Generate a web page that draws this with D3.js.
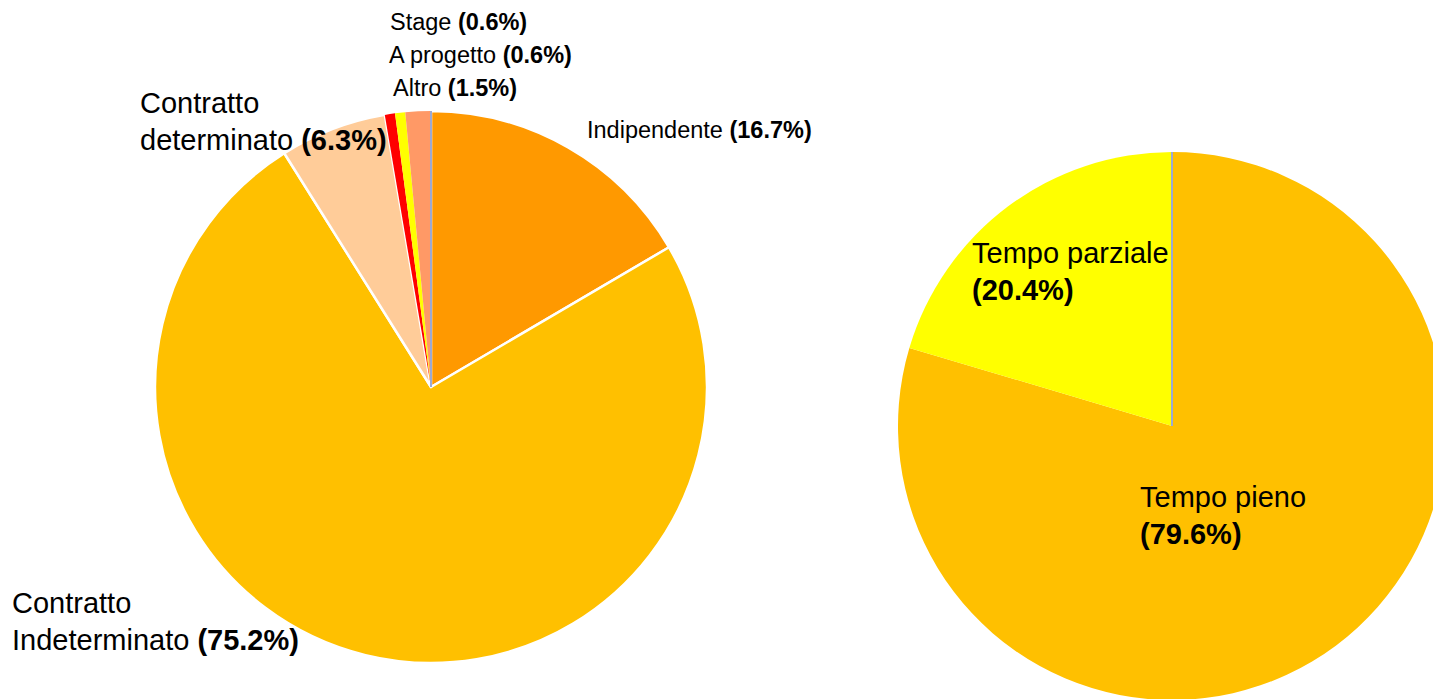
<!DOCTYPE html>
<html><head><meta charset="utf-8">
<script src="https://cdn.jsdelivr.net/npm/d3@7"></script>
<style>body{margin:0;background:#fff}svg{display:block}text{font-family:"Liberation Sans",Arial,sans-serif;fill:#000}</style>
</head><body>
<svg id="c" width="1433" height="699"></svg>
<script>
const contractCategories = ["Indipendente","Contratto Indeterminato","Contratto determinato","Stage","A progetto","Altro"];
const contractValues = [16.7, 75.2, 6.3, 0.6, 0.6, 1.5];
const contractColors = ["#FF9900","#FFC000","#FFCC99","#FF0000","#FFFF00","#FF9966"];
const timeCategories = ["Tempo pieno","Tempo parziale"];
const timeValues = [79.6, 20.4];
const timeColors = ["#FFC000","#FFFF00"];

const svg = d3.select("#c");
const pie = d3.pie().sort(null).value(d => d.v);

function drawPie(cx, cy, r, cats, vals, cols, strokeIdx) {
  const data = cats.map((c,i)=>({c, v: vals[i], col: cols[i], i}));
  const g = svg.append("g").attr("transform", `translate(${cx},${cy})`);
  const arc = d3.arc().innerRadius(0).outerRadius(r);
  g.selectAll("path").data(pie(data)).join("path")
    .attr("d", arc).attr("fill", d => d.data.col)
    .attr("stroke", d => strokeIdx.includes(d.data.i) ? "#fff" : "none")
    .attr("stroke-width", 2.5).attr("stroke-linejoin","round");
  g.append("line").attr("x1",0).attr("y1",0).attr("x2",0).attr("y2",-r)
    .attr("stroke","#9DA9D3").attr("stroke-width",2);
  return g;
}
drawPie(431, 387, 276, contractCategories, contractValues, contractColors, [0,1,2]);
drawPie(1172, 426, 274, timeCategories, timeValues, timeColors, []);

function label(x, y, lines, size) {
  const t = svg.append("text").attr("x", x).attr("y", y).style("font-size", size + "px");
  lines.forEach((ln, k) => {
    const ts = t.append("tspan").attr("x", x).attr("dy", k === 0 ? 0 : size * 1.26);
    ln.forEach(part => ts.append("tspan").text(part[0]).style("font-weight", part[1] ? "bold" : "normal"));
  });
}
const pct = v => "(" + v.toFixed(1) + "%)";
label(390, 30, [[["Stage ",0],[pct(contractValues[3]),1]]], 23.5);
label(389, 63, [[["A progetto ",0],[pct(contractValues[4]),1]]], 23.5);
label(393, 96, [[["Altro ",0],[pct(contractValues[5]),1]]], 23.5);
label(587, 138, [[["Indipendente ",0],[pct(contractValues[0]),1]]], 23.5);
label(140, 113, [[["Contratto",0]],[["determinato ",0],[pct(contractValues[2]),1]]], 29);
label(12, 613, [[["Contratto",0]],[["Indeterminato ",0],[pct(contractValues[1]),1]]], 29);
label(972, 263, [[["Tempo parziale",0]],[[pct(timeValues[1]),1]]], 29);
label(1140, 507, [[["Tempo pieno",0]],[[pct(timeValues[0]),1]]], 29);
</script>
</body></html>
